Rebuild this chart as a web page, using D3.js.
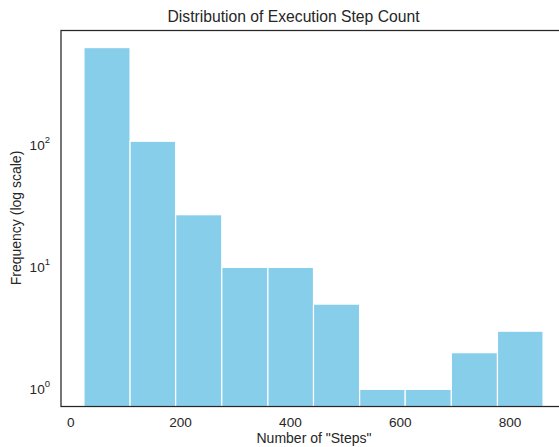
<!DOCTYPE html>
<html>
<head>
<meta charset="utf-8">
<script src="https://cdn.jsdelivr.net/npm/d3@7"></script>
<style>
  body { margin: 0; background: #fff; }
  text { font-family: "Liberation Sans", Arial, sans-serif; fill: #262626; }
</style>
</head>
<body>
<div id="chart"></div>
<script>
// histogram bins (edges) and counts
const binEdges = [24, 108, 191, 275, 359, 442, 526, 609, 693, 777, 860];
const counts   = [632, 108, 27, 10, 10, 5, 1, 1, 2, 3];
const xTicks   = [0, 200, 400, 600, 800];
const yTicks   = [0, 1, 2];   // exponents of 10

const W = 559, H = 447;
const M = { top: 30.5, left: 61, right: 566, bottom: 406.5 };

const svg = d3.select('#chart').append('svg')
  .attr('width', W)
  .attr('height', H);

// matplotlib-like 5% margins
const x0 = binEdges[0], x1 = binEdges[binEdges.length - 1];
const xPad = (x1 - x0) * 0.05;
const x = d3.scaleLinear().domain([x0 - xPad, x1 + xPad]).range([M.left, M.right]);

const lmax = Math.log10(d3.max(counts)), lmin = 0;
const lPad = (lmax - lmin) * 0.05;
const y = d3.scaleLog().domain([Math.pow(10, lmin - lPad), Math.pow(10, lmax + lPad)])
  .range([M.bottom, M.top]);

const bins = counts.map((c, i) => ({ x0: binEdges[i], x1: binEdges[i + 1], n: c }));

svg.append('g').selectAll('rect').data(bins).join('rect')
  .attr('x', d => x(d.x0))
  .attr('width', d => x(d.x1) - x(d.x0))
  .attr('y', d => y(d.n))
  .attr('height', d => M.bottom - y(d.n))
  .attr('fill', '#87CEEB')
  .attr('stroke', '#fff')
  .attr('stroke-width', 1.2);

// spines
svg.append('rect')
  .attr('x', M.left).attr('y', M.top)
  .attr('width', M.right - M.left).attr('height', M.bottom - M.top)
  .attr('fill', 'none')
  .attr('stroke', '#262626')
  .attr('stroke-width', 1.25);

// x tick labels
svg.append('g').selectAll('text').data(xTicks).join('text')
  .attr('x', d => x(d))
  .attr('y', 427)
  .attr('text-anchor', 'middle')
  .style('font-size', '13.6px')
  .text(d => d);

// y tick labels as 10^n
const yt = svg.append('g').selectAll('text').data(yTicks).join('text')
  .attr('x', 50)
  .attr('y', d => y(Math.pow(10, d)) + 5)
  .attr('text-anchor', 'end')
  .style('font-size', '13.6px');
yt.append('tspan').text('10');
yt.append('tspan')
  .attr('dy', -7)
  .style('font-size', '9.5px')
  .text(d => d);

// title and axis labels
svg.append('text')
  .attr('x', 293.5).attr('y', 22)
  .attr('text-anchor', 'middle')
  .style('font-size', '15.7px')
  .text('Distribution of Execution Step Count');

svg.append('text')
  .attr('x', 314).attr('y', 443)
  .attr('text-anchor', 'middle')
  .style('font-size', '14px')
  .text('Number of "Steps"');

svg.append('text')
  .attr('transform', 'translate(21,218) rotate(-90)')
  .attr('text-anchor', 'middle')
  .style('font-size', '14px')
  .text('Frequency (log scale)');
</script>
</body>
</html>
